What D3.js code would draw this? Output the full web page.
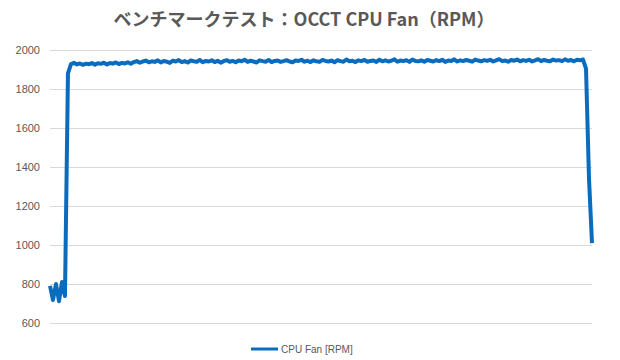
<!DOCTYPE html>
<html>
<head>
<meta charset="utf-8">
<script src="https://cdn.jsdelivr.net/npm/d3@7"></script>
<style>
	body { margin: 0; background: #fff; }
	svg { display: block; }
</style>
</head>
<body>
<svg id="chart" width="620" height="360"></svg>
<script>
	// chart text
	let title = "ベンチマークテスト：OCCT CPU Fan（RPM）";
	let seriesName = "CPU Fan [RPM]";
	let yTicks = [600, 800, 1000, 1200, 1400, 1600, 1800, 2000];

	// idle, then the ramp up
	let idleValues = [790, 718, 800, 712, 810, 738];
	let rampValues = [1880];
	// early load
	let earlyValues = [1928, 1934, 1926, 1931, 1924, 1930, 1927, 1933, 1925, 1932, 1929, 1935, 1926, 1933, 1930, 1936, 1928, 1934, 1931, 1937, 1929];
	// steady load
	let loadValues = [
		1938, 1943, 1935, 1941, 1946, 1937, 1942, 1939, 1947, 1936,
		1944, 1940, 1934, 1945, 1941, 1948, 1938, 1943, 1936, 1946,
		1942, 1939, 1949, 1937, 1944, 1941, 1947, 1938, 1945, 1935,
		1943, 1948, 1940, 1944, 1937, 1946, 1942, 1950, 1939, 1945,
		1941, 1936, 1947, 1943, 1940, 1949, 1938, 1944, 1946, 1939,
		1943, 1948, 1941, 1937, 1946, 1944, 1950, 1940, 1945, 1938,
		1947, 1942, 1939, 1949, 1944, 1941, 1946, 1937, 1948, 1943,
		1940, 1951, 1942, 1945, 1938, 1947, 1943, 1949, 1940, 1944,
		1946, 1939, 1950, 1942, 1947, 1941, 1945, 1952, 1940, 1946,
		1943, 1948, 1939, 1951, 1944, 1942, 1947, 1940, 1949, 1945,
		1941, 1948, 1943, 1950, 1939, 1946, 1944, 1952, 1941, 1947,
		1943, 1949, 1945, 1940, 1951, 1946, 1942, 1948, 1944, 1950,
		1941, 1947, 1953, 1943, 1946, 1940, 1949, 1945, 1951, 1942,
		1948, 1944, 1950, 1941, 1947, 1953, 1943, 1949, 1945, 1942,
		1951, 1946, 1948, 1943, 1952, 1945, 1949, 1942, 1950, 1947,
		1951
	];
	// test stopped
	let dropValues = [1905, 1340, 1010];

	let values = [].concat(idleValues, rampValues, earlyValues, loadValues, dropValues);

	let lineColor = "#0b6cbd";
	let textColor = "#595959";
	let gridColor = "#d9d9d9";

	let svg = d3.select("#chart");
	let margin = { left: 50, right: 28, top: 50, bottom: 37 };
	let width = 620 - margin.left - margin.right;
	let height = 360 - margin.top - margin.bottom;

	let xScale = d3.scaleLinear().domain([0, values.length - 1]).range([0, width]);
	let yScale = d3.scaleLinear().domain([600, 2000]).range([height, 0]);

	// Title
	svg.append("text")
		.attr("x", 304)
		.attr("y", 26)
		.attr("text-anchor", "middle")
		.style("font-family", "'Noto Sans CJK JP', sans-serif")
		.style("font-size", "18px")
		.style("font-weight", "bold")
		.style("fill", textColor)
		.text(title);

	let g = svg.append("g")
		.attr("transform", "translate(" + margin.left + "," + margin.top + ")");

	// Gridlines + labels
	let yAxis = d3.axisLeft(yScale)
		.tickValues(yTicks)
		.tickSize(-width)
		.tickPadding(10)
		.tickFormat(d3.format("d"));

	let axisG = g.append("g").call(yAxis);
	axisG.select(".domain").remove();
	axisG.selectAll(".tick line")
		.attr("stroke", gridColor)
		.attr("stroke-width", 1);
	axisG.selectAll(".tick text")
		.style("font-family", "'Liberation Sans', Arial, sans-serif")
		.style("font-size", "11px")
		.style("fill", textColor);

	// Series line
	let line = d3.line()
		.x(function(d, i) { return xScale(i); })
		.y(function(d) { return yScale(d); });

	g.append("path")
		.datum(values)
		.attr("fill", "none")
		.attr("stroke", lineColor)
		.attr("stroke-width", 4)
		.attr("stroke-linejoin", "round")
		.attr("d", line);

	// Legend
	let legend = svg.append("g").attr("transform", "translate(251,349)");
	legend.append("line")
		.attr("x1", 0)
		.attr("x2", 27)
		.attr("stroke", lineColor)
		.attr("stroke-width", 3);
	legend.append("text")
		.attr("x", 30)
		.attr("y", 4)
		.style("font-family", "'Liberation Sans', Arial, sans-serif")
		.style("font-size", "10px")
		.style("fill", textColor)
		.text(seriesName);
</script>
</body>
</html>
